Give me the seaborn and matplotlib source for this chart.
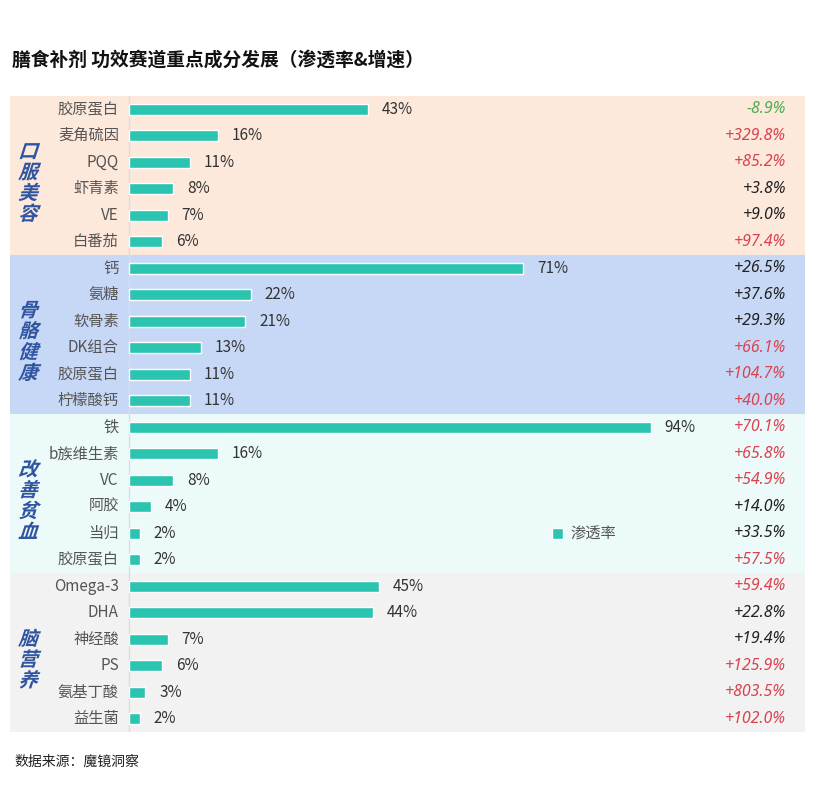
import matplotlib.pyplot as plt
import matplotlib.patheffects as pe
from matplotlib.transforms import Affine2D
import seaborn as sns
import pandas as pd

groups = ['口服美容', '骨骼健康', '改善贫血', '脑营养']
group_items = [
    ['胶原蛋白', '麦角硫因', 'PQQ', '虾青素', 'VE', '白番茄'],
    ['钙', '氨糖', '软骨素', 'DK组合', '胶原蛋白', '柠檬酸钙'],
    ['铁', 'b族维生素', 'VC', '阿胶', '当归', '胶原蛋白'],
    ['Omega-3', 'DHA', '神经酸', 'PS', '氨基丁酸', '益生菌'],
]
group_rates = [
    [43, 16, 11, 8, 7, 6],
    [71, 22, 21, 13, 11, 11],
    [94, 16, 8, 4, 2, 2],
    [45, 44, 7, 6, 3, 2],
]
group_growth = [
    [-8.9, 329.8, 85.2, 3.8, 9.0, 97.4],
    [26.5, 37.6, 29.3, 66.1, 104.7, 40.0],
    [70.1, 65.8, 54.9, 14.0, 33.5, 57.5],
    [59.4, 22.8, 19.4, 125.9, 803.5, 102.0],
]
band_colors = ['#FDE8DC', '#C7D8F6', '#ECFAFA', '#F2F2F2']

rows = []
for g, items, rates, growth in zip(groups, group_items, group_rates, group_growth):
    for n, r, gr in zip(items, rates, growth):
        rows.append({'group': g, 'name': n, 'rate': r, 'growth': gr})
df = pd.DataFrame(rows)
df['key'] = df['group'] + '-' + df['name']

sns.set_style('white')
plt.rcParams['font.family'] = ['Noto Sans CJK SC', 'DejaVu Sans']


class Skew(pe.AbstractPathEffect):
    # fake italic for CJK glyphs (no italic face installed)
    def __init__(self, deg=14):
        super().__init__()
        self.deg = deg

    def draw_path(self, renderer, gc, tpath, affine, rgbFace=None):
        renderer.draw_path(gc, tpath, Affine2D().skew_deg(self.deg, 0) + affine, rgbFace)


fig = plt.figure(figsize=(8.14, 8.10), dpi=100)
ax = fig.add_axes([10 / 814, 1 - 732 / 810, 795 / 814, 636 / 810])

n = len(df)
for i, c in enumerate(band_colors):
    ax.axhspan(i * 6 - 0.5, i * 6 + 5.5, color=c, lw=0, zorder=0)

sns.barplot(data=df, x='rate', y='key', order=df['key'], orient='h',
            color='#2BC4B0', width=0.42, saturation=1, ax=ax, zorder=3,
            label='渗透率')
ax.bar_label(ax.containers[0], labels=[f'{v}%' for v in df['rate']],
             padding=10, fontsize=11, color='#333333')

ax.set_xlim(-21.4, 121.8)
ax.set_ylim(n - 0.5, -0.5)
ax.axvline(0, color='#DDDDDD', lw=1, zorder=2)
ax.set_xticks([])
ax.set_yticks([])
ax.set_xlabel('')
ax.set_ylabel('')
for s in ax.spines.values():
    s.set_visible(False)

for i, row in df.iterrows():
    ax.text(-1.8, i, row['name'], ha='right', va='center', fontsize=11, color='#555555')
    g = row['growth']
    col = '#4CAF50' if g < 0 else ('#D9434F' if g >= 40 else '#222222')
    ax.text(0.976, i, f'{g:+.1f}%', transform=ax.get_yaxis_transform(),
            ha='right', va='center', fontsize=11.5, color=col,
            family='Noto Sans', style='italic')

for k, g in enumerate(groups):
    ax.text(-18.2, k * 6 + 2.8, '\n'.join(g), ha='center', va='center',
            fontsize=14, fontweight='bold', color='#2F55A0', linespacing=1.12,
            path_effects=[Skew(18)])

ax.legend(loc='center left', bbox_to_anchor=(0.665, 0.311), frameon=False,
          handlelength=0.7, handleheight=0.7, handletextpad=0.5,
          prop={'size': 11}, labelcolor='#555555')

fig.text(12 / 814, 1 - 60 / 810, '膳食补剂 功效赛道重点成分发展（渗透率&增速）',
         fontsize=13.5, fontweight='bold', color='#111111', va='center')
fig.text(14 / 814, 1 - 762 / 810, '数据来源：魔镜洞察', fontsize=10,
         color='#222222', va='center')

plt.savefig('out.png', dpi=100)
plt.close()
